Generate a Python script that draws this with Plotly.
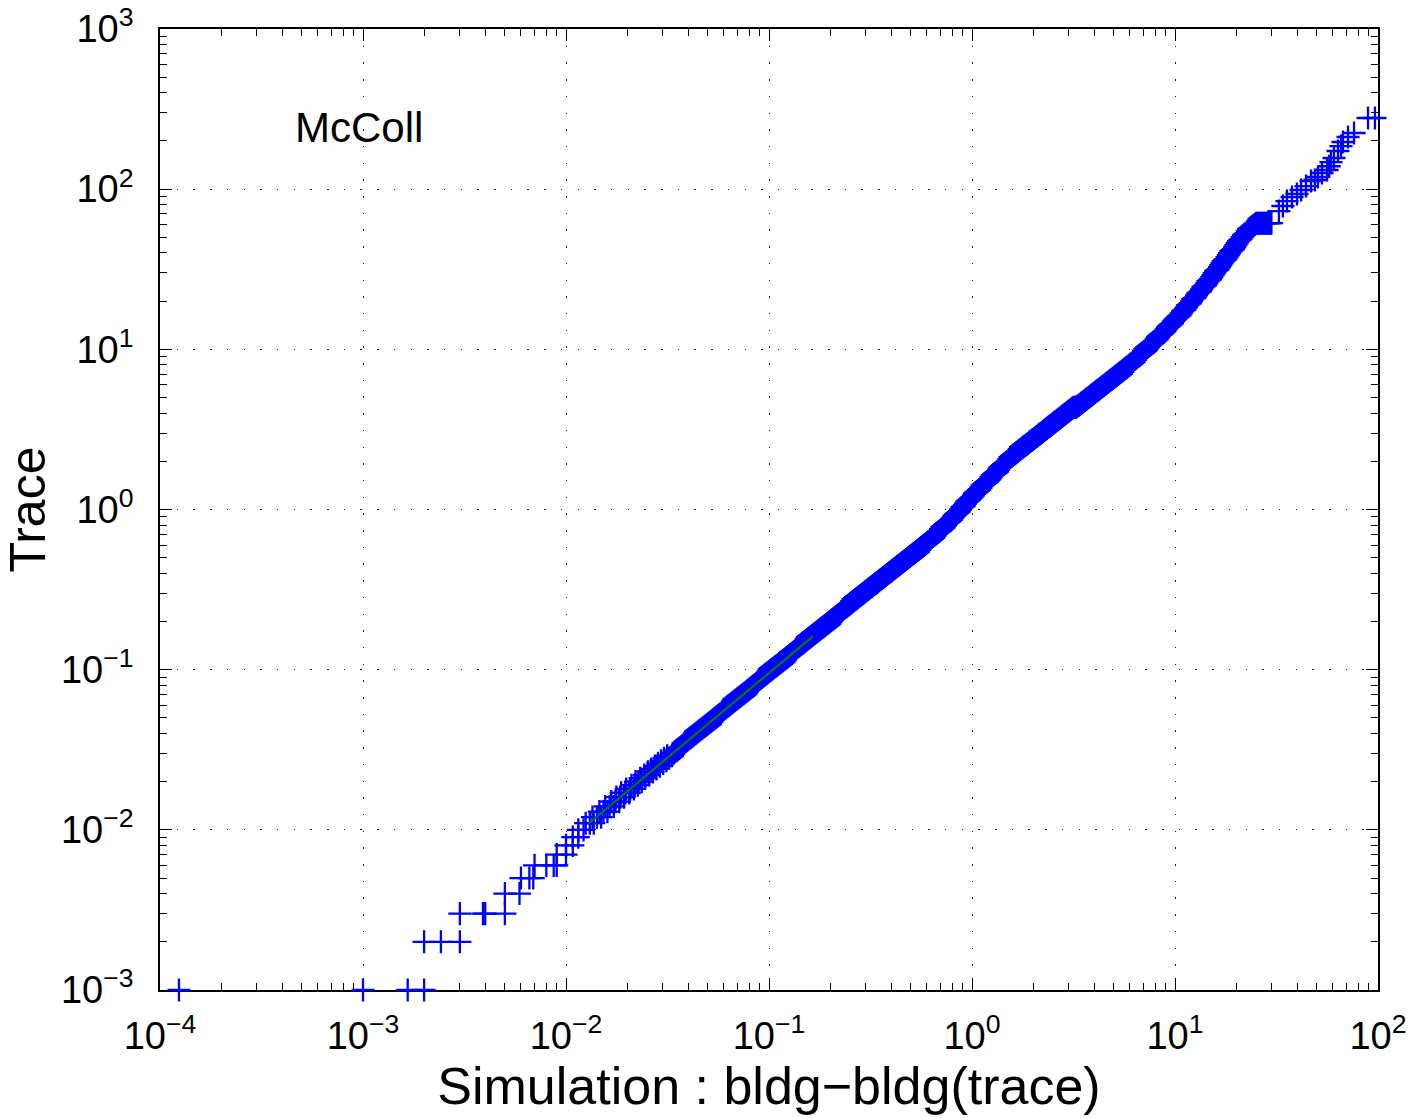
import plotly.graph_objects as go

# ---------------- data ----------------
# lower tail: both quantities quantised at 0.001
low_sim = [0.000124, 0.001, 0.00166, 0.002,
           0.002, 0.00242, 0.003,
           0.003, 0.0039, 0.004, 0.005,
           0.005, 0.0059,
           0.006, 0.0066, 0.0069,
           0.007, 0.008, 0.0087, 0.009,
           0.009, 0.010,
           0.010, 0.0108,
           0.0108, 0.0115,
           0.0115, 0.0122]
low_trace = [0.001, 0.001, 0.001, 0.001,
             0.002, 0.002, 0.002,
             0.003, 0.003, 0.003, 0.003,
             0.004, 0.004,
             0.005, 0.005, 0.005,
             0.006, 0.006, 0.006, 0.006,
             0.007, 0.007,
             0.008, 0.008,
             0.009, 0.009,
             0.010, 0.010]

# rows of crosses between 0.011 and 0.029
mid_sim = [0.0125, 0.0131, 0.0137, 0.0135, 0.0142, 0.0149, 0.0146, 0.0153, 0.0160,
           0.0156, 0.0164, 0.0172, 0.0167, 0.0175, 0.0183, 0.0177, 0.0185, 0.0193,
           0.0187, 0.0196, 0.0205, 0.0198, 0.0207, 0.0216, 0.0210, 0.0218, 0.0226,
           0.0220, 0.0228, 0.0236,
           0.0232, 0.0246, 0.0243, 0.0257, 0.0253, 0.0268, 0.0263, 0.0279, 0.0274,
           0.0290, 0.0284, 0.0301, 0.0294, 0.0312, 0.0304, 0.0322, 0.0315, 0.0333]
mid_trace = [0.011, 0.011, 0.011, 0.012, 0.012, 0.012, 0.013, 0.013, 0.013,
             0.014, 0.014, 0.014, 0.015, 0.015, 0.015, 0.016, 0.016, 0.016,
             0.017, 0.017, 0.017, 0.018, 0.018, 0.018, 0.019, 0.019, 0.019,
             0.020, 0.020, 0.020,
             0.021, 0.021, 0.022, 0.022, 0.023, 0.023, 0.024, 0.024, 0.025,
             0.025, 0.026, 0.026, 0.027, 0.027, 0.028, 0.028, 0.029, 0.029]

# dense body of the quantile-quantile band (quantile set A)
dense_sim = [
    0.03350, 0.03447, 0.03548, 0.03652, 0.03758, 0.03868, 0.03981, 0.04097, 0.04217, 0.04340,
    0.04467, 0.04597, 0.04732, 0.04870, 0.05012, 0.05158, 0.05309, 0.05464, 0.05623, 0.05788,
    0.05957, 0.06131, 0.06310, 0.06494, 0.06683, 0.06879, 0.07079, 0.07286, 0.07499, 0.07718,
    0.07943, 0.08175, 0.08414, 0.08660, 0.08913, 0.09173, 0.09441, 0.09716,
    0.1000, 0.1029, 0.1059, 0.1090, 0.1122, 0.1155, 0.1189, 0.1223, 0.1259, 0.1296,
    0.1334, 0.1372, 0.1413, 0.1454, 0.1496, 0.1540, 0.1585, 0.1631, 0.1679, 0.1728,
    0.1778, 0.1830, 0.1884, 0.1939, 0.1995, 0.2054, 0.2113, 0.2175, 0.2239, 0.2304,
    0.2371, 0.2441, 0.2512, 0.2585, 0.2661, 0.2738, 0.2818, 0.2901, 0.2985, 0.3073,
    0.3162, 0.3255, 0.3350, 0.3447, 0.3548, 0.3652, 0.3758, 0.3868, 0.3981, 0.4097,
    0.4217, 0.4340, 0.4467, 0.4597, 0.4732, 0.4870, 0.5012, 0.5158, 0.5309, 0.5464,
    0.5623, 0.5788, 0.5957, 0.6131, 0.6310, 0.6494, 0.6683, 0.6879, 0.7079, 0.7286,
    0.7499, 0.7718, 0.7943, 0.8175, 0.8414, 0.8660, 0.8913, 0.9173, 0.9441, 0.9716,
    1.000, 1.029, 1.059, 1.090, 1.122, 1.155, 1.189, 1.223, 1.259, 1.296,
    1.334, 1.372, 1.413, 1.454, 1.496, 1.540, 1.585, 1.631, 1.679, 1.728,
    1.778, 1.830, 1.884, 1.939, 1.995, 2.054, 2.113, 2.175, 2.239, 2.304,
    2.371, 2.441, 2.512, 2.585, 2.661, 2.738, 2.818, 2.901, 2.985, 3.073,
    3.162, 3.255, 3.350, 3.447, 3.548, 3.652, 3.758, 3.868, 3.981, 4.097,
    4.217, 4.340, 4.467, 4.597, 4.732, 4.870, 5.012, 5.158, 5.309, 5.464,
    5.623, 5.788, 5.957, 6.131, 6.310, 6.494, 6.683, 6.879, 7.079, 7.286,
    7.499, 7.718, 7.943, 8.175, 8.414, 8.660, 8.913, 9.173, 9.441, 9.716,
    10.00, 10.29, 10.59, 10.90, 11.22, 11.55, 11.89, 12.23, 12.59, 12.96,
    13.34, 13.72, 14.13, 14.54, 14.96, 15.40, 15.85, 16.31, 16.79, 17.28,
    17.78, 18.30, 18.84, 19.39, 19.95, 20.54, 21.13, 21.75, 22.39, 23.04,
    23.71, 24.41, 25.12, 25.85, 26.61, 27.38, 28.18, 29.01, 29.85]
dense_trace = [
    0.02985, 0.03073, 0.03162, 0.03255, 0.03350, 0.03548, 0.03652, 0.03758, 0.03868, 0.03981,
    0.04097, 0.04217, 0.04340, 0.04467, 0.04597, 0.04732, 0.04870, 0.05012, 0.05158, 0.05309,
    0.05623, 0.05788, 0.05957, 0.06131, 0.06310, 0.06494, 0.06683, 0.06879, 0.07079, 0.07286,
    0.07499, 0.07718, 0.07943, 0.08175, 0.08660, 0.08913, 0.09173, 0.09441, 0.09716,
    0.1000, 0.1029, 0.1059, 0.1090, 0.1122, 0.1155, 0.1189, 0.1223, 0.1259, 0.1296,
    0.1372, 0.1413, 0.1454, 0.1496, 0.1540, 0.1585, 0.1631, 0.1679, 0.1728, 0.1778,
    0.1830, 0.1884, 0.1939, 0.1995, 0.2054, 0.2113, 0.2175, 0.2239, 0.2371, 0.2441,
    0.2512, 0.2585, 0.2661, 0.2738, 0.2818, 0.2901, 0.2985, 0.3073, 0.3162, 0.3255,
    0.3350, 0.3447, 0.3548, 0.3652, 0.3758, 0.3868, 0.3981, 0.4097, 0.4217, 0.4340,
    0.4467, 0.4597, 0.4732, 0.4870, 0.5012, 0.5158, 0.5309, 0.5464, 0.5623, 0.5788,
    0.5957, 0.6131, 0.6310, 0.6683, 0.6879, 0.7079, 0.7286, 0.7499, 0.7718, 0.8175,
    0.8414, 0.8660, 0.9173, 0.9441, 0.9716,
    1.029, 1.059, 1.122, 1.155, 1.189, 1.259, 1.296, 1.334, 1.413, 1.454,
    1.496, 1.540, 1.631, 1.679, 1.728, 1.830, 1.884, 1.939, 1.995, 2.113,
    2.175, 2.239, 2.304, 2.371, 2.441, 2.512, 2.585, 2.661, 2.738, 2.818,
    2.901, 2.985, 3.073, 3.162, 3.255, 3.350, 3.447, 3.548, 3.652, 3.758,
    3.868, 3.981, 4.097, 4.217, 4.340, 4.340, 4.467, 4.597, 4.732, 4.870,
    5.012, 5.158, 5.309, 5.464, 5.623, 5.788, 5.957, 6.131, 6.310, 6.494,
    6.683, 6.879, 7.079, 7.286, 7.499, 7.718, 7.943, 8.175, 8.660, 8.913,
    9.173, 9.441, 9.716,
    10.29, 10.59, 10.90, 11.22, 11.55, 12.23, 12.59, 12.96, 13.72, 14.13,
    14.54, 15.40, 15.85, 16.31, 17.28, 17.78, 18.84, 19.39, 20.54, 21.13,
    22.39, 23.04, 24.41, 25.12, 26.61, 27.38, 29.01, 30.73, 31.62, 33.50,
    35.48, 36.52, 38.68, 40.97, 42.17, 44.67, 47.32, 48.70, 51.58, 53.09,
    56.23, 57.88, 59.57, 61.31, 61.31, 61.31, 61.31, 61.31, 61.31, 61.31]

# dense body, in-between quantiles (quantile set B)
dense_sim_b = [
    0.03399, 0.03497, 0.03599, 0.03705, 0.03813, 0.03924, 0.04039, 0.04156, 0.04278, 0.04403,
    0.04532, 0.04664, 0.04801, 0.04941, 0.05085, 0.05233, 0.05386, 0.05543, 0.05705, 0.05872,
    0.06043, 0.06220, 0.06401, 0.06588, 0.06780, 0.06979, 0.07182, 0.07392, 0.07608, 0.07830,
    0.08058, 0.08294, 0.08536, 0.08786, 0.09042, 0.09306, 0.09578, 0.09857,
    0.1015, 0.1044, 0.1074, 0.1106, 0.1138, 0.1172, 0.1206, 0.1241, 0.1277, 0.1315,
    0.1353, 0.1392, 0.1434, 0.1475, 0.1518, 0.1562, 0.1608, 0.1655, 0.1703, 0.1753,
    0.1804, 0.1857, 0.1911, 0.1967, 0.2024, 0.2084, 0.2144, 0.2207, 0.2271, 0.2337,
    0.2405, 0.2476, 0.2548, 0.2623, 0.2700, 0.2778, 0.2859, 0.2943, 0.3028, 0.3118,
    0.3208, 0.3302, 0.3399, 0.3497, 0.3599, 0.3705, 0.3813, 0.3924, 0.4039, 0.4156,
    0.4278, 0.4403, 0.4532, 0.4664, 0.4801, 0.4941, 0.5085, 0.5233, 0.5386, 0.5543,
    0.5705, 0.5872, 0.6043, 0.6220, 0.6401, 0.6588, 0.6780, 0.6979, 0.7182, 0.7392,
    0.7608, 0.7830, 0.8058, 0.8294, 0.8536, 0.8786, 0.9042, 0.9306, 0.9578, 0.9857,
    1.015, 1.044, 1.074, 1.106, 1.138, 1.172, 1.206, 1.241, 1.277, 1.315,
    1.353, 1.392, 1.434, 1.475, 1.518, 1.562, 1.608, 1.655, 1.703, 1.753,
    1.804, 1.857, 1.911, 1.967, 2.024, 2.084, 2.144, 2.207, 2.271, 2.337,
    2.405, 2.476, 2.548, 2.623, 2.700, 2.778, 2.859, 2.943, 3.028, 3.118,
    3.208, 3.302, 3.399, 3.497, 3.599, 3.705, 3.813, 3.924, 4.039, 4.156,
    4.278, 4.403, 4.532, 4.664, 4.801, 4.941, 5.085, 5.233, 5.386, 5.543,
    5.705, 5.872, 6.043, 6.220, 6.401, 6.588, 6.780, 6.979, 7.182, 7.392,
    7.608, 7.830, 8.058, 8.294, 8.536, 8.786, 9.042, 9.306, 9.578, 9.857,
    10.15, 10.44, 10.74, 11.06, 11.38, 11.72, 12.06, 12.41, 12.77, 13.15,
    13.53, 13.92, 14.34, 14.75, 15.18, 15.62, 16.08, 16.55, 17.03, 17.53,
    18.04, 18.57, 19.11, 19.67, 20.24, 20.84, 21.44, 22.07, 22.71, 23.37,
    24.05, 24.76, 25.48, 26.23, 27.00, 27.78, 28.59, 29.43]
dense_trace_b = [
    0.03028, 0.03118, 0.03208, 0.03302, 0.03447, 0.03599, 0.03705, 0.03813, 0.03924, 0.04039,
    0.04156, 0.04278, 0.04403, 0.04532, 0.04664, 0.04801, 0.04941, 0.05085, 0.05233, 0.05464,
    0.05705, 0.05872, 0.06043, 0.06220, 0.06401, 0.06588, 0.06780, 0.06979, 0.07182, 0.07392,
    0.07608, 0.07830, 0.08058, 0.08414, 0.08786, 0.09042, 0.09306, 0.09578,
    0.09857, 0.1015, 0.1044, 0.1074, 0.1106, 0.1138, 0.1172, 0.1206, 0.1241, 0.1277,
    0.1334, 0.1392, 0.1434, 0.1475, 0.1518, 0.1562, 0.1608, 0.1655, 0.1703, 0.1753,
    0.1804, 0.1857, 0.1911, 0.1967, 0.2024, 0.2084, 0.2144, 0.2207, 0.2304, 0.2405,
    0.2476, 0.2548, 0.2623, 0.2700, 0.2778, 0.2859, 0.2943, 0.3028, 0.3118, 0.3208,
    0.3302, 0.3399, 0.3497, 0.3599, 0.3705, 0.3813, 0.3924, 0.4039, 0.4156, 0.4278,
    0.4403, 0.4532, 0.4664, 0.4801, 0.4941, 0.5085, 0.5233, 0.5386, 0.5543, 0.5705,
    0.5872, 0.6043, 0.6220, 0.6494, 0.6780, 0.6979, 0.7182, 0.7392, 0.7608, 0.7943,
    0.8294, 0.8536, 0.8913, 0.9306, 0.9578, 1.000,
    1.044, 1.090, 1.138, 1.172, 1.223, 1.277, 1.315, 1.372, 1.434, 1.475,
    1.518, 1.585, 1.655, 1.703, 1.778, 1.857, 1.911, 1.967, 2.054, 2.144,
    2.207, 2.271, 2.337, 2.405, 2.476, 2.548, 2.623, 2.700, 2.778, 2.859,
    2.943, 3.028, 3.118, 3.208, 3.302, 3.399, 3.497, 3.599, 3.705, 3.813,
    3.924, 4.039, 4.156, 4.278, 4.340, 4.403, 4.532, 4.664, 4.801, 4.941,
    5.085, 5.233, 5.386, 5.543, 5.705, 5.872, 6.043, 6.220, 6.401, 6.588,
    6.780, 6.979, 7.182, 7.392, 7.608, 7.830, 8.058, 8.414, 8.786, 9.042,
    9.306, 9.578, 10.00,
    10.44, 10.74, 11.06, 11.38, 11.89, 12.41, 12.77, 13.34, 13.92, 14.34,
    14.96, 15.62, 16.08, 16.79, 17.53, 18.30, 19.11, 19.95, 20.84, 21.75,
    22.71, 23.71, 24.76, 25.85, 27.00, 28.18, 29.85, 31.18, 32.55, 34.47,
    35.99, 37.58, 39.81, 41.56, 43.40, 45.97, 48.01, 50.12, 52.33, 54.64,
    57.05, 58.72, 60.43, 61.31, 61.31, 61.31, 61.31, 61.31, 61.31]

# upper tail
high_sim = [32.5, 34.0, 35.6, 37.7, 39.9, 41.8, 44.2, 46.8, 48.9, 50.6, 53.0,
            56.1, 57.5, 58.7, 60.7, 63.5, 65.7, 67.2, 71.2, 76.2, 89.3, 96.6]
high_trace = [73.0, 78.5, 84.3, 89.3, 93.3, 98.8, 104.6, 112.4, 114.1, 119.1, 126.2,
              131.7, 139.0, 147.7, 156.5, 173.1, 185.9, 197.0, 211.7, 224.2, 278.1, 278.1]

# fitted reference line
fit_sim = [0.013, 0.165]
fit_trace = [0.011, 0.162]

x_tick_vals = [1e-4, 1e-3, 1e-2, 1e-1, 1e0, 1e1, 1e2]
x_tick_labels = ["10<sup>\u22124</sup>", "10<sup>\u22123</sup>", "10<sup>\u22122</sup>",
                 "10<sup>\u22121</sup>", "10<sup>0</sup>", "10<sup>1</sup>", "10<sup>2</sup>"]
y_tick_vals = [1e-3, 1e-2, 1e-1, 1e0, 1e1, 1e2, 1e3]
y_tick_labels = ["10<sup>\u22123</sup>", "10<sup>\u22122</sup>", "10<sup>\u22121</sup>",
                 "10<sup>0</sup>", "10<sup>1</sup>", "10<sup>2</sup>", "10<sup>3</sup>"]

x_title = "Simulation : bldg\u2212bldg(trace)"
y_title = "Trace"
label_text = "McColl"

# ---------------- figure ----------------
n_b = min(len(dense_sim_b), len(dense_trace_b))
sim_all = low_sim + mid_sim + dense_sim + dense_sim_b[:n_b] + high_sim
trace_all = low_trace + mid_trace + dense_trace + dense_trace_b[:n_b] + high_trace

FONT = "Liberation Sans, Arial, Helvetica, sans-serif"
BLUE = "rgb(0,0,255)"
GREEN = "rgb(0,128,0)"

fig = go.Figure()
fig.add_trace(go.Scatter(
    x=sim_all, y=trace_all, mode="markers",
    marker=dict(symbol="cross-thin", size=16.5, color=BLUE,
                line=dict(color=BLUE, width=2.3)),
    cliponaxis=False, hoverinfo="skip"))
fig.add_trace(go.Scatter(
    x=fit_sim, y=fit_trace, mode="lines",
    line=dict(color=GREEN, width=2), hoverinfo="skip"))

def minor_vals(lo, hi):
    return [m * 10.0 ** e for e in range(lo, hi) for m in range(2, 10)]

common = dict(
    type="log", showline=True, linecolor="black", linewidth=1.8,
    mirror="allticks", ticks="inside", ticklen=12, tickwidth=1.2, tickcolor="black",
    showgrid=True, gridcolor="#1a1a1a", gridwidth=1.3, griddash="1.5px,15.2px",
    zeroline=False, layer="below traces",
    tickfont=dict(size=38, family=FONT, color="black"),
)

fig.update_xaxes(
    range=[-4, 2], tickmode="array", tickvals=x_tick_vals, ticktext=x_tick_labels,
    ticklabelstandoff=11,
    minor=dict(tickmode="array", tickvals=minor_vals(-4, 2), ticks="inside",
               ticklen=7, tickwidth=1.2, tickcolor="black", showgrid=False),
    title=dict(text=x_title, font=dict(size=52, family=FONT, color="black"), standoff=12),
    **common)
fig.update_yaxes(
    range=[-3, 3], tickmode="array", tickvals=y_tick_vals, ticktext=y_tick_labels,
    ticklabelstandoff=17,
    minor=dict(tickmode="array", tickvals=minor_vals(-3, 3), ticks="inside",
               ticklen=7, tickwidth=1.2, tickcolor="black", showgrid=False),
    title=dict(text=y_title, font=dict(size=50, family=FONT, color="black"), standoff=1),
    **common)

fig.add_annotation(x=0.1092, y=0.897, xref="paper", yref="paper",
                   text=label_text, showarrow=False, xanchor="left", yanchor="middle",
                   font=dict(size=42, family=FONT, color="black"))

fig.update_layout(
    width=1416, height=1118,
    margin=dict(l=160, r=38, t=29, b=128, autoexpand=False),
    plot_bgcolor="white", paper_bgcolor="white",
    showlegend=False, font=dict(family=FONT, color="black"),
)

fig.write_html("out.html")
